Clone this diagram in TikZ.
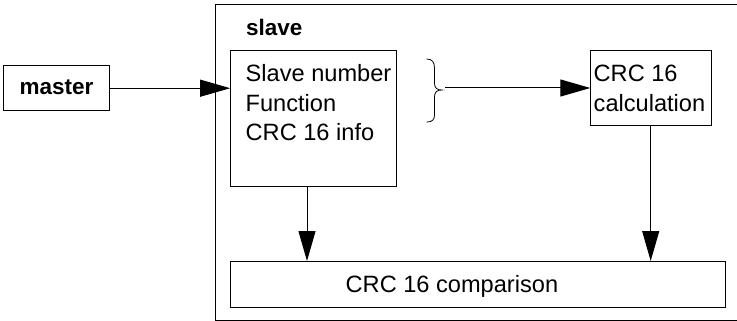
\documentclass[tikz,border=0pt]{standalone}
\usepackage{fontspec}
\setmainfont{Liberation Sans}
\usetikzlibrary{arrows.meta}
\begin{document}
\begin{tikzpicture}[x=1pt,y=-1pt,
  box/.style={draw,line width=1pt,rectangle,anchor=north west,inner sep=0pt,outer sep=0pt},
  txt/.style={anchor=base west,inner sep=0pt,font=\fontsize{23.6}{28}\selectfont},
  btxt/.style={inner sep=0pt,font=\fontsize{22.5}{28}\selectfont\bfseries},
  arr/.style={line width=1pt,-{Triangle[length=30pt,width=17pt]}},
  bracestyle/.style={line width=0.8pt}]
\useasboundingbox (0,0) rectangle (737,321);
% outer slave box (right side cut at the picture edge)
\node[box,minimum width=540pt,minimum height=315.5pt] (slavebox) at (215.3,4.5) {};
\node[btxt,anchor=base west] (slavelbl) at (246,36) {slave};
% master
\node[box,minimum width=106pt,minimum height=45pt] (master) at (3.3,65.7) {};
\node[btxt,anchor=base] (masterlbl) at (56.5,95) {master};
% inner info box
\node[box,minimum width=166pt,minimum height=135.5pt] (inner) at (230.2,50.5) {};
\node[txt] (l1) at (245.5,81.7) {Slave number};
\node[txt] (l2) at (245.5,111) {Function};
\node[txt] (l3) at (245.5,140.3) {CRC 16 info};
% CRC calculation box
\node[box,minimum width=121.5pt,minimum height=75pt] (crc) at (590.3,50.5) {};
\node[txt] (c1) at (593.5,81.7) {CRC 16};
\node[txt] (c2) at (593.5,111) {calculation};
% comparison box
\node[box,minimum width=495pt,minimum height=46pt] (cmp) at (230.5,261) {};
\node[txt] (cmplbl) at (345.5,292.5) {CRC 16 comparison};
% brace
\coordinate (btop) at (426.7,59);
\coordinate (btip) at (441.7,90);
\coordinate (bbot) at (426.7,122);
\draw[bracestyle] (btop) .. controls (432,59) and (434.5,62) .. (434.5,68)
  -- (434.5,83) .. controls (434.5,88) and (437,90) .. (btip)
  .. controls (437,90) and (434.5,92) .. (434.5,97)
  -- (434.5,115) .. controls (434.5,120) and (432,122) .. (bbot);
% connectors
\draw[arr] (master.east) -- (master.east -| inner.west);
\coordinate (bstart) at (445,88);
\draw[arr] (bstart) -- (bstart -| crc.west);
\coordinate (d1) at (307,186);
\draw[arr] (d1) -- (d1 |- cmp.north);
\coordinate (d2) at (650.7,125.5);
\draw[arr] (d2) -- (d2 |- cmp.north);
\end{tikzpicture}
\end{document}
